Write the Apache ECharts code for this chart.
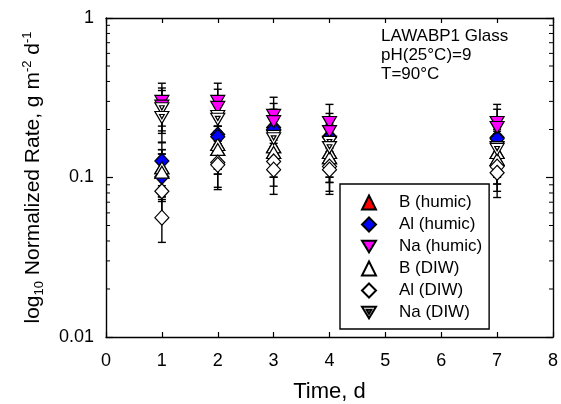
<!DOCTYPE html>
<html>
<head>
<meta charset="utf-8">
<script src="https://cdn.jsdelivr.net/npm/echarts@6/dist/echarts.min.js"></script>
<style>html,body{margin:0;padding:0;background:#fff}#c{width:561px;height:404px}</style>
</head>
<body>
<div id="c"></div>
<script>
// ---- data ----
const days = [1, 2, 3, 4, 7];
// two replicate measurements per element and solution
const bHumicA  = [0.115, 0.161, 0.156, 0.1435, 0.1435];
const bHumicB  = [0.108, 0.150, 0.1435, 0.133, 0.130];
const alHumicA = [0.127, 0.186, 0.206, 0.181, 0.178];
const alHumicB = [0.101, 0.180, 0.200, 0.178, 0.175];
const naHumicA = [0.300, 0.300, 0.245, 0.221, 0.221];
const naHumicB = [0.280, 0.275, 0.224, 0.194, 0.206];
const bDiwA    = [0.115, 0.161, 0.156, 0.1435, 0.1435];
const bDiwB    = [0.108, 0.150, 0.1435, 0.133, 0.130];
const alDiwA   = [0.082, 0.124, 0.126, 0.117, 0.117];
const alDiwB   = [0.056, 0.120, 0.112, 0.112, 0.107];
const naDiwA   = [0.270, 0.241, 0.181, 0.166, 0.154];
const naDiwB   = [0.238, 0.232, 0.175, 0.154, 0.150];
const relativeUncertainty = 0.30; // error bars: +/- 30 %
const xTicks = [0, 1, 2, 3, 4, 5, 6, 7, 8];
const yTickLabels = ['0.01', '0.1', '1'];
const yMinorTicks = [0.02,0.03,0.04,0.05,0.06,0.07,0.08,0.09,0.2,0.3,0.4,0.5,0.6,0.7,0.8,0.9];
const legendNames = ['B (humic)', 'Al (humic)', 'Na (humic)', 'B (DIW)', 'Al (DIW)', 'Na (DIW)'];
const noteLines = ['LAWABP1 Glass', 'pH(25°C)=9', 'T=90°C'];

// ---- build ----
const FONT = 'Liberation Sans, Arial, sans-serif';
function points(a, b) {
  const out = [];
  days.forEach((d, i) => { out.push([d, a[i]]); out.push([d, b[i]]); });
  return out;
}
function errs(a, b) {
  return points(a, b).map(p => [p[0], p[1] * (1 - relativeUncertainty), p[1] * (1 + relativeUncertainty)]);
}
function errorSeries(name, a, b) {
  return {
    type: 'custom', name: name + ' err', data: errs(a, b),
    encode: { x: 0, y: [1, 2] }, silent: true,
    renderItem(params, api) {
      const x = api.value(0);
      const lo = api.coord([x, api.value(1)]);
      const hi = api.coord([x, api.value(2)]);
      const w = 4, st = { stroke: '#000', lineWidth: 1.4 };
      return { type: 'group', children: [
        { type: 'line', shape: { x1: lo[0], y1: lo[1], x2: hi[0], y2: hi[1] }, style: st },
        { type: 'line', shape: { x1: lo[0] - w, y1: lo[1], x2: lo[0] + w, y2: lo[1] }, style: st },
        { type: 'line', shape: { x1: hi[0] - w, y1: hi[1], x2: hi[0] + w, y2: hi[1] }, style: st }
      ]};
    }
  };
}
const DOWN = 'path://M0,0L12,0L6,10Z';
const DOWN2 = 'path://M0,0L12,0L6,10Z M4,2.6L8,2.6L6,6Z';
function scatter(name, a, b, symbol, size, color) {
  return {
    type: 'scatter', name, data: points(a, b), symbol, symbolSize: size,
    itemStyle: { color, borderColor: '#000', borderWidth: 1.2, opacity: 1 }
  };
}
const series = [
  errorSeries('B (humic)', bHumicA, bHumicB),
  scatter('B (humic)', bHumicA, bHumicB, 'triangle', [14, 12], '#ff0000'),
  errorSeries('Al (humic)', alHumicA, alHumicB),
  scatter('Al (humic)', alHumicA, alHumicB, 'diamond', [14, 15], '#0000ff'),
  errorSeries('Na (humic)', naHumicA, naHumicB),
  scatter('Na (humic)', naHumicA, naHumicB, DOWN, [14, 12], '#ff00ff'),
  errorSeries('B (DIW)', bDiwA, bDiwB),
  scatter('B (DIW)', bDiwA, bDiwB, 'triangle', [14, 12], '#ffffff'),
  errorSeries('Al (DIW)', alDiwA, alDiwB),
  scatter('Al (DIW)', alDiwA, alDiwB, 'diamond', [14, 15], '#ffffff'),
  errorSeries('Na (DIW)', naDiwA, naDiwB),
  scatter('Na (DIW)', naDiwA, naDiwB, DOWN2, [14, 12], '#ffffff'),
  {
    type: 'custom', name: 'minor ticks', silent: true, yAxisIndex: 0,
    data: yMinorTicks.map(v => [0, v]), encode: { x: 0, y: 1 },
    renderItem(params, api) {
      const p = api.coord([0, api.value(1)]);
      const cs = params.coordSys;
      const st = { stroke: '#000', lineWidth: 1 };
      return { type: 'group', children: [
        { type: 'line', shape: { x1: cs.x, y1: p[1], x2: cs.x + 4, y2: p[1] }, style: st },
        { type: 'line', shape: { x1: cs.x + cs.width, y1: p[1], x2: cs.x + cs.width - 4, y2: p[1] }, style: st }
      ]};
    }
  }
];

const axisLine = { show: true, onZero: false, lineStyle: { color: '#000', width: 1.4 } };
const option = {
  animation: false,
  backgroundColor: '#fff',
  textStyle: { fontFamily: FONT },
  grid: { left: 106, right: 8, top: 18, bottom: 67, containLabel: false, outerBoundsMode: 'none' },
  xAxis: [
    { type: 'value', min: xTicks[0], max: xTicks[xTicks.length - 1], interval: 1,
      name: 'Time, d', nameLocation: 'middle', nameGap: 44,
      nameTextStyle: { fontSize: 22, color: '#000', fontFamily: FONT },
      axisLine, axisTick: { inside: true, length: 5, lineStyle: { color: '#000', width: 1.2 } },
      axisLabel: { fontSize: 18, color: '#000', margin: 15, fontFamily: FONT },
      splitLine: { show: false } },
    { type: 'value', position: 'top', min: xTicks[0], max: xTicks[xTicks.length - 1], interval: 1,
      axisLine, axisTick: { inside: true, length: 5, lineStyle: { color: '#000', width: 1.2 } },
      axisLabel: { show: false }, splitLine: { show: false } }
  ],
  yAxis: [
    { type: 'log', logBase: 10, min: 0.01, max: 1,
      name: 'log{sub|10} Normalized Rate, g m{sup|-2} d{sup|-1}', nameLocation: 'middle', nameGap: 60, nameRotate: 90,
      nameTextStyle: { fontSize: 21, color: '#000', fontFamily: FONT,
        rich: { sub: { fontSize: 13, padding: [11, 0, 0, 0], fontFamily: FONT, color: '#000' },
                sup: { fontSize: 13, padding: [0, 0, 12, 0], fontFamily: FONT, color: '#000' } } },
      axisLine, axisTick: { inside: true, length: 7, lineStyle: { color: '#000', width: 1.2 } },
      axisLabel: { fontSize: 18, color: '#000', margin: 12, fontFamily: FONT,
        formatter: v => yTickLabels.find(t => Math.abs(parseFloat(t) - v) < 1e-9) || '' },
      splitLine: { show: false } },
    { type: 'log', logBase: 10, min: 0.01, max: 1, position: 'right',
      axisLine, axisTick: { inside: true, length: 7, lineStyle: { color: '#000', width: 1.2 } },
      axisLabel: { show: false }, splitLine: { show: false } }
  ],
  legend: {
    data: legendNames, orient: 'vertical', left: 340, top: 184,
    padding: [10, 7, 8, 21], itemGap: 5, itemWidth: 14, itemHeight: 14,
    borderColor: '#000', borderWidth: 1.4, backgroundColor: '#fff',
    textStyle: { fontSize: 17, color: '#000', fontFamily: FONT, padding: [0, 0, 0, 18] },
    selectedMode: false
  },
  graphic: [{
    type: 'text', left: 381, top: 27,
    style: { text: noteLines.join('\n'), font: '17px ' + FONT, lineHeight: 19, fill: '#000' }
  }],
  series
};
echarts.init(document.getElementById('c'), null, { renderer: 'canvas' }).setOption(option);
</script>
</body>
</html>
